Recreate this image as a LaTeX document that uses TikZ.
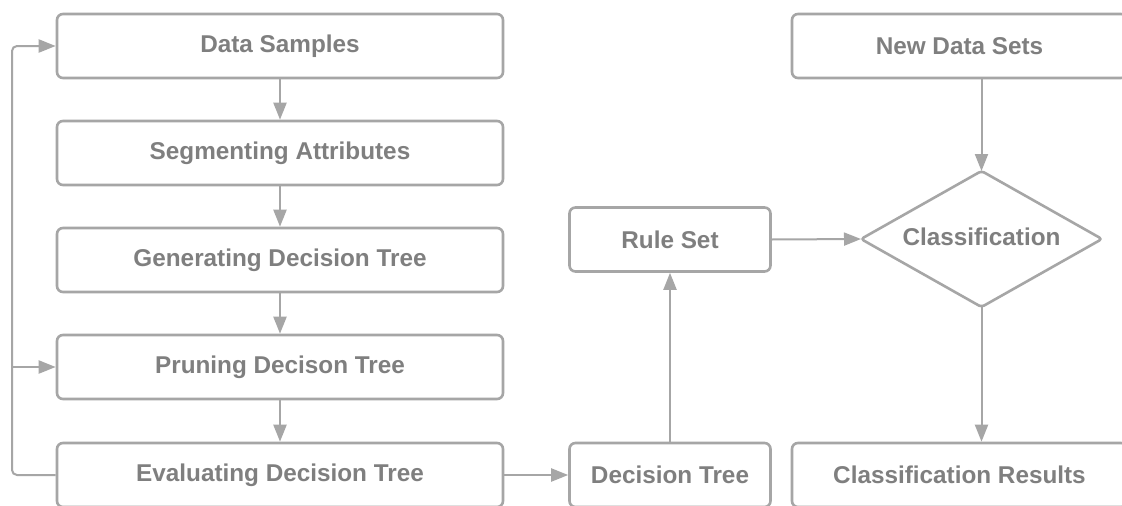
\documentclass[tikz,border=0pt]{standalone}
\usepackage{fontspec}
\setmainfont{Liberation Sans}
\usetikzlibrary{arrows.meta}
\definecolor{edgegray}{HTML}{A6A6A6}
\definecolor{labelgray}{HTML}{7F7F7F}
\begin{document}
\begin{tikzpicture}[x=1pt,y=-1pt,
  labeltext/.style={text=labelgray, font=\fontsize{24.3}{28}\selectfont\bfseries, inner sep=0pt},
  box/.style={labeltext, draw=edgegray, line width=2.6pt, rounded corners=6pt, fill=white,
    minimum height=64pt},
  wide/.style={box, minimum width=446pt},
  mid/.style={box, minimum width=201pt},
  side/.style={box, minimum width=335pt},
  outline/.style={draw=edgegray, line width=2.6pt, rounded corners=3pt, line join=round},
  conn/.style={draw=edgegray, line width=2pt,
    -{Triangle[length=17pt,width=13pt]}}
]
\fill[white] (0,0) rectangle (1122,506);
\clip (0,0) rectangle (1122,506);

% training chain
\node[wide] (ds) at (280,46)  {Data Samples};
\node[wide] (sa) at (280,153) {Segmenting Attributes};
\node[wide] (gd) at (280,260) {Generating Decision Tree};
\node[wide] (pd) at (280,367) {Pruning Decison Tree};
\node[wide] (ed) at (280,475) {Evaluating Decision Tree};

% model and application
\node[mid] (dt) at (670,475)   {Decision Tree};
\node[mid] (rs) at (670,239.5) {Rule Set};
\node[side] (nd) at (959.5,46)  {New Data Sets};
\node[side] (cr) at (959.5,475) {Classification Results};

% decision diamond
\coordinate (clw) at (861,239);
\coordinate (cln) at (981.5,171);
\coordinate (cle) at (1102,239);
\coordinate (cls) at (981.5,307);
\draw[outline] (clw) -- (cln) -- (cle) -- (cls) -- cycle;
\node[labeltext] (cl) at (981.5,237) {Classification};

\coordinate (fb) at (12,0);

\draw[conn] (ds) -- (sa);
\draw[conn] (sa) -- (gd);
\draw[conn] (gd) -- (pd);
\draw[conn] (pd) -- (ed);

% feedback loop on the left
\draw[conn, rounded corners=5pt] (ed.west) -- (fb |- ed.west) |- (ds.west);
\draw[conn] (fb |- pd.west) -- (pd.west);

\draw[conn] (ed.east) -- (dt.west);
\draw[conn] (dt.north) -- (rs.south);
\draw[conn] (rs.east) -- (clw);
\draw[conn] (cln |- nd.south) -- (cln);
\draw[conn] (cls) -- (cls |- cr.north);
\end{tikzpicture}
\end{document}
